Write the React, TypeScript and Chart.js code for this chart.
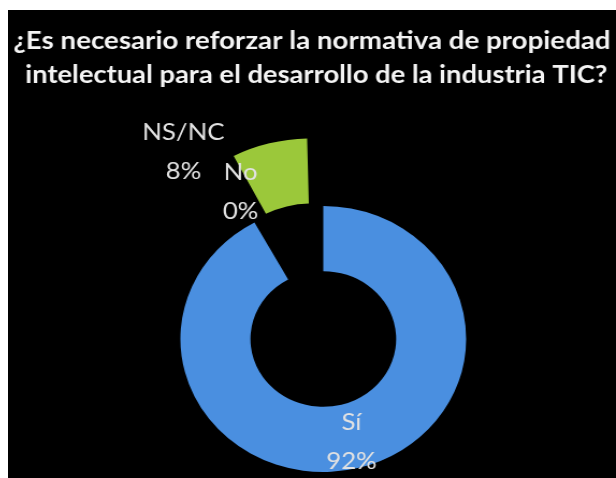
import React, { useEffect, useRef } from "react";
import { Chart, registerables } from "chart.js";

Chart.register(...registerables);

const categories = ["Sí", "No", "NS/NC"];
const values = [92, 0, 8];
const percentLabels = ["92%", "0%", "8%"];
const titleLines = [
  "¿Es necesario reforzar la normativa de propiedad",
  "intelectual para el desarrollo de la industria TIC?",
];

const sliceColors = ["#4a8fe0", "#9bc83a", "#9bc83a"];
const sliceOffsets = [0, 0, 182];

// label placement relative to each arc: angle shift (deg) from arc mid-angle, radial position as fraction of ring thickness from inner radius
const labelPlacement = [
  { dAngle: 0, rFrac: 0.58 },
  { dAngle: 1.2, rFrac: 1.51 },
  { dAngle: -20.4, rFrac: 2.46 },
];

const CANVAS_W = 566;
const CANVAS_H = 468;
const DISPLAY_W = 608;

const textPlugin = {
  id: "textPlugin",
  afterDatasetsDraw(chart: any) {
    const ctx = chart.ctx as CanvasRenderingContext2D;
    const meta = chart.getDatasetMeta(0);
    ctx.save();
    ctx.fillStyle = "#e2e2e2";
    ctx.font = "24px Lato";
    ctx.textAlign = "center";
    ctx.textBaseline = "middle";
    meta.data.forEach((arc: any, i: number) => {
      const p = arc.getProps(["x", "y", "startAngle", "endAngle", "innerRadius", "outerRadius"], true);
      const pl = labelPlacement[i];
      const a = (p.startAngle + p.endAngle) / 2 + (pl.dAngle * Math.PI) / 180;
      const r = p.innerRadius + pl.rFrac * (p.outerRadius - p.innerRadius);
      const cx = p.x + Math.cos(a) * r;
      const cy = p.y + Math.sin(a) * r;
      const lh = 39;
      ctx.fillText(categories[i], cx, cy - lh / 2);
      ctx.fillText(percentLabels[i], cx, cy + lh / 2);
    });
    ctx.restore();

    // title
    ctx.save();
    ctx.fillStyle = "#f4f4f4";
    ctx.font = "bold 24px Lato";
    ctx.textAlign = "center";
    ctx.textBaseline = "alphabetic";
    const targets = [556, 542];
    const baselines = [39, 73];
    const centers = [283, 287];
    titleLines.forEach((line, i) => {
      const w = ctx.measureText(line).width;
      const s = targets[i] / w;
      ctx.save();
      ctx.translate(centers[i], baselines[i]);
      ctx.scale(s, 1);
      ctx.fillText(line, 0, 0);
      ctx.restore();
    });
    ctx.restore();
  },
};

export default function App() {
  const ref = useRef<HTMLCanvasElement | null>(null);

  useEffect(() => {
    if (!ref.current) return;
    const chart = new Chart(ref.current, {
      type: "doughnut",
      data: {
        labels: categories,
        datasets: [
          {
            data: values,
            backgroundColor: sliceColors,
            borderWidth: 0,
            offset: sliceOffsets,
            clip: false as any,
          } as any,
        ],
      },
      options: {
        responsive: false,
        devicePixelRatio: 1,
        animation: false,
        radius: 133,
        cutout: "51%",
        layout: { padding: { left: 21, right: 0, top: 190, bottom: 0 } },
        plugins: {
          legend: { display: false },
          tooltip: { enabled: false },
          title: { display: false },
        },
      } as any,
      plugins: [textPlugin],
    });
    ref.current.style.width = DISPLAY_W + "px";
    ref.current.style.height = CANVAS_H + "px";
    return () => chart.destroy();
  }, []);

  return (
    <div
      style={{
        position: "absolute",
        left: 8,
        top: 10,
        width: DISPLAY_W,
        height: CANVAS_H,
        background: "#000",
        overflow: "hidden",
      }}
    >
      <canvas
        ref={ref}
        width={CANVAS_W}
        height={CANVAS_H}
        style={{ width: DISPLAY_W, height: CANVAS_H, display: "block" }}
      />
    </div>
  );
}
